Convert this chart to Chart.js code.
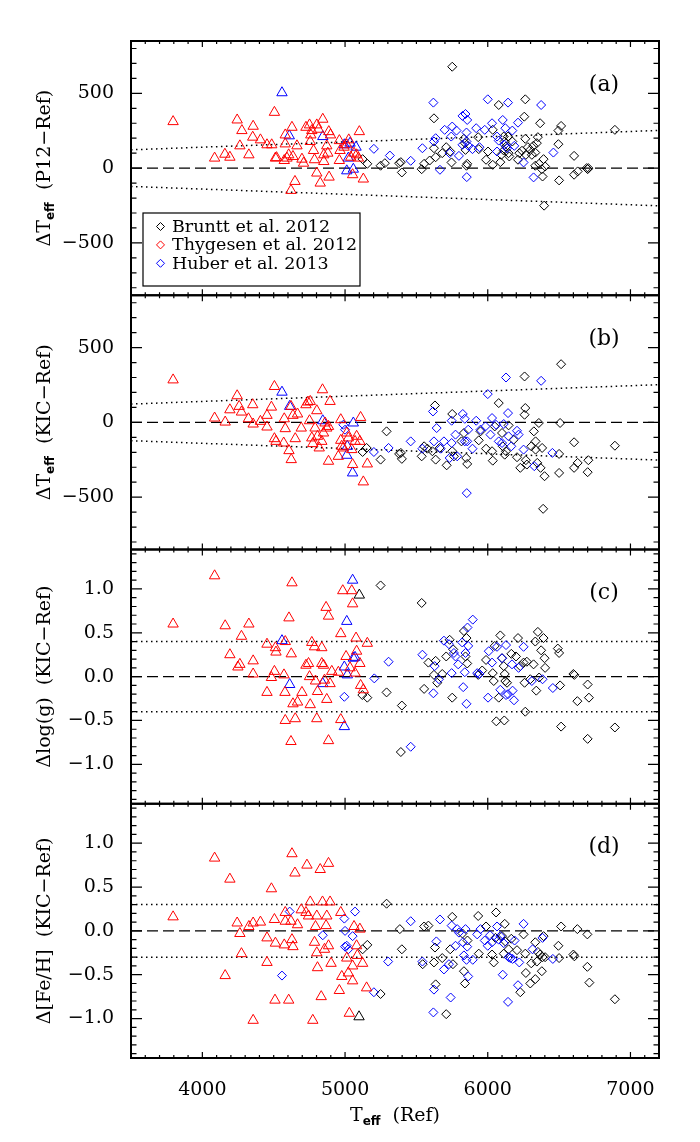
<!DOCTYPE html>
<html lang="en">
<head>
    <meta charset="UTF-8">
    <title>Teff, log g and [Fe/H] differences</title>
    <script src="https://cdn.jsdelivr.net/npm/chart.js"></script>
    <style>
        body { margin: 0; background: #fff; }
        canvas { display: block; }
    </style>
</head>
<body>
    <canvas id="chartDiff" width="700" height="1142"></canvas>

    <script>
        // x range and tick labels
        const tMin = 3500, tMax = 7200;
        const xTicks = [4000, 5000, 6000, 7000];
        const dtTicks = [-500, 0, 500];
        const dtTickLabels = ['\u2212500', '0', '500'];
        const dgTicks = [-1.0, -0.5, 0, 0.5, 1.0];
        const dgTickLabels = ['\u22121.0', '\u22120.5', '0.0', '0.5', '1.0'];

        // (a) dTeff (P12 - Ref)
        const brunttA = [[5123,60],[5156,29],[5249,16],[5279,33],[5379,33],[5391,40],[5398,-29],[5537,-7],[5554,29],[5593,51],[5623,333],[5623,133],[5635,73],[5681,100],[5709,140],[5737,111],[5751,678],[5746,38],[5833,196],[5840,167],[5844,122],[5856,29],[5851,16],[5933,207],[5937,127],[5988,56],[6002,111],[6035,256],[6035,22],[6077,422],[6088,40],[6095,89],[6112,211],[6112,118],[6118,178],[6128,144],[6142,211],[6146,100],[6151,78],[6172,178],[6212,56],[6221,100],[6240,116],[6256,344],[6263,460],[6263,196],[6267,89],[6281,140],[6298,122],[6309,89],[6319,149],[6333,104],[6333,16],[6344,167],[6351,207],[6360,29],[6367,300],[6379,-7],[6384,-56],[6395,-251],[6391,60],[6402,11],[6495,251],[6514,282],[6495,160],[6500,-82],[6605,82],[6605,-44],[6630,-22],[6693,0],[6705,0],[6700,-7],[6891,256]];
        const thygesenA = [[3795,311],[4086,67],[4158,93],[4193,73],[4244,322],[4277,251],[4263,149],[4326,89],[4356,280],[4353,207],[4407,189],[4453,156],[4486,156],[4505,373],[4512,67],[4520,70],[4574,51],[4581,162],[4581,222],[4593,67],[4605,89],[4628,273],[4635,78],[4621,-149],[4649,-89],[4663,149],[4698,60],[4709,33],[4726,273],[4751,289],[4767,251],[4760,222],[4756,178],[4779,118],[4786,56],[4802,289],[4814,260],[4802,-33],[4826,-100],[4844,327],[4851,89],[4851,44],[4872,149],[4886,244],[4898,222],[4879,100],[4888,-60],[4960,184],[4965,118],[4960,51],[4993,140],[5012,156],[5026,189],[5040,73],[5053,-44],[5063,100],[5081,89],[5093,67],[5100,244],[5128,-73]];
        const huberA = [[5202,129],[5314,84],[5460,49],[5542,133],[5619,438],[5635,200],[5623,178],[5665,-11],[5698,256],[5733,100],[5751,278],[5744,211],[5781,251],[5798,82],[5823,349],[5844,362],[5856,322],[5851,238],[5823,156],[5851,178],[5865,149],[5893,127],[5919,267],[5853,-60],[5942,140],[5979,256],[6000,460],[6030,300],[6065,211],[6077,184],[6105,322],[6123,267],[6135,133],[6142,438],[6172,251],[6186,149],[6212,304],[6251,38],[6321,-62],[6374,422],[6460,104],[6065,111],[6119,156]];
        const huberGiantsA = [[4558,504],[4609,216],[4844,211],[4995,156],[5035,167],[5023,67],[5012,-18],[5058,-7],[5077,140]];

        // (b) dTeff (KIC - Ref)
        const brunttB = [[5151,-171],[5123,-198],[5249,-249],[5291,-60],[5379,-211],[5391,-204],[5398,-244],[5537,-227],[5554,-160],[5577,-176],[5612,-193],[5630,113],[5635,-249],[5663,-171],[5712,-287],[5751,56],[5751,-193],[5763,-227],[5816,-127],[5833,-71],[5849,-238],[5856,-278],[5937,-120],[5949,-60],[5988,-176],[6030,-193],[6035,-256],[6049,-27],[6077,129],[6100,-71],[6105,-160],[6119,-216],[6128,-193],[6146,-20],[6181,-116],[6205,-233],[6228,-304],[6258,307],[6263,96],[6258,51],[6267,-253],[6274,-282],[6305,-160],[6323,-60],[6335,-127],[6335,-182],[6347,-271],[6358,-4],[6370,-304],[6381,-171],[6398,-360],[6388,-578],[6500,-211],[6500,-338],[6507,-4],[6514,389],[6605,-133],[6605,-304],[6630,-271],[6700,-333],[6705,-253],[6891,-156]];
        const thygesenB = [[3795,284],[4086,29],[4160,2],[4193,84],[4244,178],[4258,107],[4274,69],[4323,24],[4353,118],[4356,-11],[4407,7],[4453,47],[4453,-31],[4484,102],[4505,240],[4505,-109],[4516,-127],[4570,-138],[4574,24],[4581,-42],[4607,-189],[4623,-249],[4621,107],[4635,47],[4651,-109],[4667,56],[4693,-38],[4726,118],[4740,136],[4756,140],[4751,11],[4767,-104],[4774,-142],[4790,-38],[4802,78],[4807,-93],[4819,-171],[4837,-127],[4842,218],[4849,-71],[4860,-4],[4872,-38],[4884,-27],[4895,140],[4884,-260],[4970,18],[4970,-120],[4953,-227],[4988,-171],[5023,-104],[5047,-182],[5053,-282],[5070,-127],[5081,-93],[5104,-127],[5109,33],[5128,-398],[5156,-278],[5012,-71],[4976,-160]];
        const huberB = [[4988,-16],[5000,-49],[5202,-198],[5305,-171],[5460,-127],[5542,-176],[5616,73],[5642,-38],[5623,-127],[5670,-176],[5693,-127],[5733,-238],[5747,11],[5747,-138],[5774,-82],[5786,-227],[5825,56],[5839,24],[5839,-127],[5856,-127],[5863,-49],[5893,-176],[5853,-473],[5919,11],[5949,-49],[5984,-27],[6000,189],[6019,-82],[6030,29],[6058,-16],[6077,-127],[6100,-138],[6112,-11],[6128,300],[6142,62],[6146,-93],[6165,-160],[6205,-56],[6216,-82],[6251,-182],[6326,-293],[6374,278],[6453,-204]];
        const huberGiantsB = [[4558,202],[4612,107],[4844,11],[5016,-160],[5012,-220],[5058,-4],[5053,-338]];

        // (c) dlog(g) (KIC - Ref)
        const brunttC = [[5249,1.04],[5121,-0.21],[5156,-0.24],[5291,-0.18],[5391,-0.86],[5398,-0.33],[5537,0.84],[5554,-0.14],[5584,0.16],[5623,0.02],[5635,0.18],[5646,-0.07],[5681,0.03],[5709,0.23],[5733,0.42],[5751,-0.24],[5758,0.31],[5833,0.52],[5851,0.44],[5856,0.15],[5844,0.23],[5933,0.02],[5961,0.07],[5988,0.19],[6035,0.04],[6042,-0.05],[6049,0.35],[6060,-0.51],[6077,-0.24],[6088,0.47],[6100,0.21],[6112,0.12],[6116,-0.50],[6119,0.03],[6123,-0.05],[6135,-0.07],[6165,0.26],[6198,0.23],[6212,0.44],[6228,0.12],[6251,0.16],[6258,-0.07],[6263,-0.40],[6274,0.17],[6298,-0.03],[6321,0.14],[6333,0.40],[6340,-0.16],[6351,0.51],[6360,-0.01],[6374,0.30],[6391,0.44],[6398,0.21],[6402,0.10],[6491,0.32],[6500,0.27],[6507,-0.10],[6514,-0.57],[6600,0.03],[6607,0.02],[6628,-0.28],[6700,-0.09],[6709,-0.24],[6700,-0.71],[6891,-0.58]];
        const thygesenC = [[3795,0.60],[4086,1.15],[4160,0.58],[4193,0.25],[4249,0.11],[4263,0.14],[4274,0.46],[4326,0.60],[4356,0.18],[4356,0.03],[4453,0.37],[4453,-0.18],[4484,-0.01],[4505,0.06],[4512,0.33],[4516,0.28],[4572,0.02],[4579,-0.18],[4581,0.40],[4581,-0.50],[4607,0.67],[4623,0.26],[4628,1.07],[4621,-0.74],[4635,-0.31],[4651,-0.48],[4667,-0.29],[4698,-0.18],[4726,0.13],[4744,0.15],[4751,0.00],[4756,-0.32],[4767,0.39],[4786,0.34],[4793,-0.05],[4802,-0.48],[4807,-0.17],[4837,0.15],[4837,0.33],[4849,0.13],[4856,-0.04],[4867,0.79],[4884,0.69],[4872,-0.26],[4884,-0.73],[4895,-0.08],[4907,0.06],[4953,0.05],[4970,0.49],[4970,-0.49],[4984,0.98],[5007,0.23],[5047,0.98],[5053,0.83],[5077,0.44],[5081,0.29],[5104,0.15],[5109,-0.10],[5128,-0.15],[5156,0.38],[5035,0.10],[5070,0.04]];
        const huberC = [[4995,-0.23],[5205,-0.02],[5305,0.17],[5460,-0.80],[5542,0.25],[5619,-0.19],[5628,0.12],[5658,-0.03],[5693,0.41],[5728,0.37],[5747,0.04],[5763,0.27],[5774,0.23],[5793,0.14],[5821,0.39],[5828,-0.12],[5839,0.05],[5844,0.27],[5851,-0.31],[5858,0.56],[5863,0.35],[5895,0.65],[5926,0.04],[5942,0.03],[6002,-0.24],[6007,0.29],[6030,0.16],[6065,0.34],[6088,-0.15],[6100,0.21],[6128,0.36],[6128,-0.21],[6142,-0.20],[6170,0.14],[6174,-0.16],[6184,-0.27],[6216,0.10],[6251,0.34],[6309,-0.05],[6384,-0.03],[6456,-0.13]];
        const huberGiantsC = [[4558,0.41],[4612,-0.09],[4844,-0.08],[4995,0.11],[5012,0.63],[5016,0.02],[5053,1.10],[5058,0.21],[4995,-0.57],[5070,0.22]];
        const brunttGiantsC = [[5100,0.93]];

        // (d) d[Fe/H] (KIC - Ref)
        const brunttD = [[5123,-0.21],[5156,-0.16],[5249,-0.72],[5291,0.31],[5384,0.02],[5398,-0.21],[5544,-0.38],[5554,0.05],[5584,0.06],[5623,-0.36],[5630,-0.19],[5635,-0.61],[5681,-0.31],[5709,-0.95],[5737,-0.21],[5751,0.16],[5756,-0.38],[5823,-0.03],[5833,-0.46],[5840,-0.60],[5858,-0.11],[5933,0.17],[5937,-0.26],[5988,0.05],[6030,-0.27],[6042,-0.36],[6058,0.21],[6054,-0.08],[6100,-0.06],[6112,-0.26],[6119,0.08],[6123,-0.12],[6146,-0.21],[6165,-0.09],[6205,-0.22],[6228,-0.70],[6251,-0.04],[6267,-0.48],[6263,-0.26],[6298,-0.60],[6305,-0.37],[6333,-0.55],[6333,-0.13],[6344,-0.35],[6351,-0.24],[6367,-0.27],[6379,-0.46],[6384,-0.30],[6391,-0.06],[6402,-0.30],[6495,-0.17],[6500,-0.31],[6514,0.05],[6600,-0.27],[6607,-0.29],[6628,0.02],[6698,-0.04],[6698,-0.41],[6712,-0.59],[6891,-0.78]];
        const thygesenD = [[3795,0.16],[4086,0.83],[4160,-0.51],[4193,0.59],[4244,0.09],[4263,-0.03],[4274,-0.26],[4326,0.05],[4356,0.09],[4356,-1.02],[4407,0.10],[4453,-0.08],[4453,-0.36],[4484,0.48],[4505,0.13],[4512,-0.14],[4509,-0.79],[4574,-0.16],[4581,0.11],[4581,0.21],[4605,-0.79],[4621,0.11],[4628,0.88],[4628,-0.10],[4635,-0.18],[4649,0.66],[4667,0.07],[4693,0.24],[4726,0.21],[4733,0.75],[4744,0.17],[4756,0.33],[4774,-1.02],[4786,-0.13],[4793,0.05],[4802,0.17],[4807,-0.42],[4802,-0.25],[4826,0.70],[4833,-0.75],[4842,0.33],[4856,-0.21],[4867,0.06],[4872,0.17],[4884,0.77],[4884,-0.17],[4895,0.33],[4902,-0.37],[4960,-0.68],[4970,0.21],[4977,-0.52],[5012,-0.31],[5023,-0.48],[5030,-0.94],[5053,-0.40],[5053,-0.57],[5063,0.05],[5081,-0.17],[5086,-0.28],[5104,0.02],[5123,-0.37],[5151,-0.65]];
        const huberD = [[4558,-0.51],[4612,0.22],[4844,-0.05],[4995,0.14],[5000,0.00],[5000,-0.18],[5012,-0.17],[5023,-0.21],[5053,-0.06],[5070,0.22],[5202,-0.70],[5302,-0.35],[5460,0.11],[5542,-0.35],[5623,-0.67],[5619,-0.93],[5640,-0.12],[5665,0.13],[5693,-0.44],[5728,-0.38],[5740,-0.76],[5747,0.06],[5774,-0.17],[5786,0.02],[5798,-0.02],[5826,-0.13],[5833,-0.28],[5844,0.02],[5851,-0.33],[5856,-0.18],[5863,-0.52],[5895,-0.33],[5926,-0.04],[5949,0.02],[5979,-0.11],[6000,-0.17],[6016,-0.05],[6030,-0.13],[6065,0.05],[6077,-0.10],[6088,-0.06],[6105,-0.50],[6112,-0.14],[6142,-0.81],[6146,-0.30],[6158,-0.31],[6174,-0.32],[6188,-0.11],[6212,-0.62],[6221,-0.36],[6251,0.08],[6314,-0.21],[6384,-0.08],[6456,-0.32]];
        const brunttGiantsD = [[5098,-0.98]];

        // reference bands: +-3.5% Teff in (a),(b); +-0.4 dex log g; +-0.3 dex [Fe/H]
        const teffFrac = 0.035, loggBand = 0.4, fehBand = 0.3;

        const legendNames = ['Bruntt et al. 2012', 'Thygesen et al. 2012', 'Huber et al. 2013'];
        const legendColors = ['#000000', '#ff0000', '#0000ff'];

        const panels = [
            { axis: 'yA', tag: '(a)', title: [['\u0394T', 0], ['eff', 1], ['  (P12\u2212Ref)', 0]], minor: 100, major: 500, band: 'teff' },
            { axis: 'yB', tag: '(b)', title: [['\u0394T', 0], ['eff', 1], ['  (KIC\u2212Ref)', 0]], minor: 100, major: 500, band: 'teff' },
            { axis: 'yC', tag: '(c)', title: [['\u0394log(g)  (KIC\u2212Ref)', 0]], minor: 0.1, major: 0.5, band: loggBand },
            { axis: 'yD', tag: '(d)', title: [['\u0394[Fe/H]  (KIC\u2212Ref)', 0]], minor: 0.1, major: 0.5, band: fehBand }
        ];

        const SERIF = "'DejaVu Serif'";
        Chart.defaults.font.family = SERIF;
        Chart.defaults.color = '#000';

        function series(label, data, axis, color, style) {
            const r = style === 'triangle' ? 6 : 4.5;
            return {
                label: label, data: data, yAxisID: axis,
                pointStyle: style,
                pointRadius: r,
                pointHoverRadius: r,
                borderColor: color, backgroundColor: 'rgba(0,0,0,0)',
                pointBorderWidth: 1, showLine: false
            };
        }

        const datasets = [];
        [['yA', brunttA, thygesenA, huberA, huberGiantsA, null],
         ['yB', brunttB, thygesenB, huberB, huberGiantsB, null],
         ['yC', brunttC, thygesenC, huberC, huberGiantsC, brunttGiantsC],
         ['yD', brunttD, thygesenD, huberD, null, brunttGiantsD]].forEach(p => {
            datasets.push(series('Thygesen', p[2], p[0], '#ff0000', 'triangle'));
            if (p[4]) datasets.push(series('Huber giants', p[4], p[0], '#0000ff', 'triangle'));
            if (p[5]) datasets.push(series('Bruntt giants', p[5], p[0], '#000000', 'triangle'));
            datasets.push(series('Huber', p[3], p[0], '#0000ff', 'rectRot'));
            datasets.push(series('Bruntt', p[1], p[0], '#000000', 'rectRot'));
        });

        function yScale(weight, min, max, ticks, labels) {
            return {
                type: 'linear', position: 'left', stack: 'panels', stackWeight: 1, weight: weight,
                min: min, max: max, offset: false,
                grid: { display: false }, border: { display: false },
                afterBuildTicks: s => { s.ticks = ticks.map(v => ({ value: v })); },
                afterFit: s => { s.width = 131; },
                ticks: { padding: 9, font: { size: 19 }, callback: (v, i) => labels[i] }
            };
        }

        function drawComposite(ctx, parts, cx, cy, rotate) {
            const main = '19px ' + SERIF, sub = 'bold 12px DejaVu Sans';
            ctx.save();
            ctx.translate(cx, cy);
            if (rotate) ctx.rotate(-Math.PI / 2);
            ctx.textBaseline = 'alphabetic';
            ctx.textAlign = 'left';
            let total = 0;
            parts.forEach(p => { ctx.font = p[1] ? sub : main; total += ctx.measureText(p[0]).width; });
            let x = -total / 2;
            parts.forEach(p => {
                ctx.font = p[1] ? sub : main;
                ctx.fillText(p[0], x, p[1] ? 11 : 7);
                x += ctx.measureText(p[0]).width;
            });
            ctx.restore();
        }

        const panelDecor = {
            id: 'panelDecor',
            beforeDatasetsDraw(chart) {
                const ctx = chart.ctx, xs = chart.scales.x, area = chart.chartArea;
                ctx.save();
                ctx.strokeStyle = '#000';
                panels.forEach(p => {
                    const ys = chart.scales[p.axis];
                    ctx.save();
                    ctx.beginPath();
                    ctx.rect(area.left, ys.top, area.right - area.left, ys.bottom - ys.top);
                    ctx.clip();
                    // zero line
                    ctx.lineWidth = 1.3;
                    ctx.setLineDash([11, 5]);
                    ctx.beginPath();
                    ctx.moveTo(area.left, ys.getPixelForValue(0));
                    ctx.lineTo(area.right, ys.getPixelForValue(0));
                    ctx.stroke();
                    // dotted bands
                    ctx.lineWidth = 1.5;
                    ctx.setLineDash([1.5, 3.5]);
                    [1, -1].forEach(sg => {
                        ctx.beginPath();
                        if (p.band === 'teff') {
                            ctx.moveTo(xs.getPixelForValue(tMin), ys.getPixelForValue(sg * teffFrac * tMin));
                            ctx.lineTo(xs.getPixelForValue(tMax), ys.getPixelForValue(sg * teffFrac * tMax));
                        } else {
                            ctx.moveTo(area.left, ys.getPixelForValue(sg * p.band));
                            ctx.lineTo(area.right, ys.getPixelForValue(sg * p.band));
                        }
                        ctx.stroke();
                    });
                    ctx.restore();
                });
                ctx.restore();
            },
            afterDraw(chart) {
                const ctx = chart.ctx, xs = chart.scales.x, area = chart.chartArea;
                ctx.save();
                ctx.strokeStyle = '#000';
                ctx.fillStyle = '#000';
                ctx.setLineDash([]);
                panels.forEach((p, k) => {
                    const ys = chart.scales[p.axis];
                    const top = ys.top, bot = ys.bottom;
                    // x ticks, top and bottom, inward
                    ctx.lineWidth = 1.2;
                    ctx.beginPath();
                    for (let v = tMin; v <= tMax; v += 100) {
                        const px = xs.getPixelForValue(v);
                        const len = v % 1000 === 0 ? 6 : 3;
                        ctx.moveTo(px, top); ctx.lineTo(px, top + len);
                        ctx.moveTo(px, bot); ctx.lineTo(px, bot - len);
                    }
                    // y ticks, left and right, inward
                    const ratio = Math.round(p.major / p.minor);
                    const n0 = Math.ceil(ys.min / p.minor - 1e-6), n1 = Math.floor(ys.max / p.minor + 1e-6);
                    for (let n = n0; n <= n1; n++) {
                        const py = ys.getPixelForValue(n * p.minor);
                        const len = n % ratio === 0 ? 11 : 5.5;
                        ctx.moveTo(area.left, py); ctx.lineTo(area.left + len, py);
                        ctx.moveTo(area.right, py); ctx.lineTo(area.right - len, py);
                    }
                    ctx.stroke();
                    // frame
                    ctx.lineWidth = 2;
                    ctx.strokeRect(area.left, top, area.right - area.left, bot - top);
                    // panel tag
                    ctx.font = '22px ' + SERIF;
                    ctx.textAlign = 'center';
                    ctx.textBaseline = 'middle';
                    ctx.fillText(p.tag, area.right - 55, top + 44);
                    // axis title
                    drawComposite(ctx, p.title, 43, (top + bot) / 2, true);
                    // legend in first panel
                    if (k === 0) {
                        const bx = area.left + 12, by = top + 172, bw = 217, bh = 73;
                        ctx.fillStyle = '#fff';
                        ctx.fillRect(bx, by, bw, bh);
                        ctx.fillStyle = '#000';
                        ctx.lineWidth = 1.2;
                        ctx.strokeRect(bx, by, bw, bh);
                        ctx.font = '17.5px ' + SERIF;
                        ctx.textAlign = 'left';
                        legendNames.forEach((name, i) => {
                            const ly = by + 13.5 + i * 18.4;
                            const lx = bx + 17.5;
                            ctx.strokeStyle = legendColors[i];
                            ctx.lineWidth = 1;
                            ctx.beginPath();
                            ctx.moveTo(lx - 4, ly); ctx.lineTo(lx, ly - 4);
                            ctx.lineTo(lx + 4, ly); ctx.lineTo(lx, ly + 4);
                            ctx.closePath();
                            ctx.stroke();
                            ctx.fillText(name, bx + 29, ly + 1);
                        });
                        ctx.strokeStyle = '#000';
                    }
                });
                // x axis title
                drawComposite(ctx, [['T', 0], ['eff', 1], ['  (Ref)', 0]], (area.left + area.right) / 2, 1114, false);
                ctx.restore();
            }
        };

        const ctx = document.getElementById('chartDiff').getContext('2d');
        const chart = new Chart(ctx, {
            type: 'scatter',
            data: { datasets: datasets },
            options: {
                responsive: false,
                animation: false,
                layout: { padding: { top: 41, right: 41, left: 0, bottom: 0 } },
                plugins: { legend: { display: false }, tooltip: { enabled: false } },
                scales: {
                    x: {
                        type: 'linear', position: 'bottom', min: tMin, max: tMax,
                        grid: { display: false }, border: { display: false },
                        afterBuildTicks: s => { s.ticks = xTicks.map(v => ({ value: v })); },
                        afterFit: s => { s.height = 84; },
                        ticks: { padding: 13, autoSkip: false, maxRotation: 0, font: { size: 19 }, callback: v => String(v) }
                    },
                    yA: yScale(4, -850, 850, dtTicks, dtTickLabels),
                    yB: yScale(3, -850, 850, dtTicks, dtTickLabels),
                    yC: yScale(2, -1.45, 1.45, dgTicks, dgTickLabels),
                    yD: yScale(1, -1.45, 1.45, dgTicks, dgTickLabels)
                }
            },
            plugins: [panelDecor]
        });
    </script>
</body>
</html>
